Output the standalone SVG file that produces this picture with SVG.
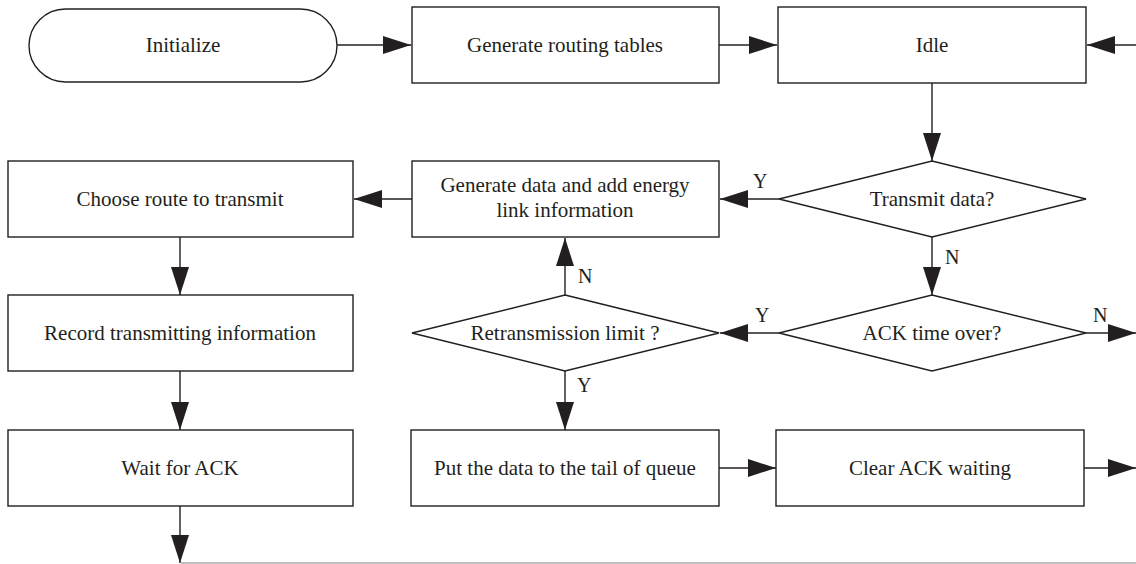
<svg xmlns="http://www.w3.org/2000/svg" width="1136" height="564" viewBox="0 0 1136 564">
<style>
.n{fill:#fff;stroke:#231f20;stroke-width:1.4}
.t{font-family:"Liberation Serif",serif;font-size:21px;fill:#231f20;text-anchor:middle;dominant-baseline:central}
.l{font-family:"Liberation Serif",serif;font-size:20px;fill:#231f20}
.c{fill:none;stroke:#231f20;stroke-width:1.4}
</style>
<defs>
<marker id="a" markerUnits="userSpaceOnUse" markerWidth="29" markerHeight="19" refX="28" refY="9" orient="auto">
<path d="M0,0 L28,9 L0,18 z" fill="#231f20"/>
</marker>
</defs>
<rect width="1136" height="564" fill="#fff"/>
<g id="connectors">
<line class="c" x1="337" y1="45" x2="411" y2="45" marker-end="url(#a)"/>
<line class="c" x1="719" y1="45" x2="777" y2="45" marker-end="url(#a)"/>
<line class="c" x1="1136" y1="45" x2="1087" y2="45" marker-end="url(#a)"/>
<line class="c" x1="932" y1="83" x2="932" y2="161" marker-end="url(#a)"/>
<line class="c" x1="779" y1="199" x2="720" y2="199" marker-end="url(#a)"/>
<line class="c" x1="412" y1="199" x2="354" y2="199" marker-end="url(#a)"/>
<line class="c" x1="932" y1="237" x2="932" y2="295" marker-end="url(#a)"/>
<line class="c" x1="779" y1="333" x2="720" y2="333" marker-end="url(#a)"/>
<line class="c" x1="1086" y1="333" x2="1136" y2="333" marker-end="url(#a)"/>
<line class="c" x1="565" y1="295" x2="565" y2="238" marker-end="url(#a)"/>
<line class="c" x1="565" y1="371" x2="565" y2="430" marker-end="url(#a)"/>
<line class="c" x1="180" y1="237" x2="180" y2="295" marker-end="url(#a)"/>
<line class="c" x1="180" y1="371" x2="180" y2="430" marker-end="url(#a)"/>
<line class="c" x1="180" y1="506" x2="180" y2="563" marker-end="url(#a)"/>
<line class="c" x1="719" y1="468" x2="776" y2="468" marker-end="url(#a)"/>
<line class="c" x1="1084" y1="468" x2="1136" y2="468" marker-end="url(#a)"/>
<line x1="181" y1="563" x2="1136" y2="563" stroke="#aaa" stroke-width="1.4"/>
<text class="l" x="753" y="188">Y</text>
<text class="l" x="945" y="264">N</text>
<text class="l" x="755" y="322">Y</text>
<text class="l" x="1093" y="322">N</text>
<text class="l" x="578" y="283">N</text>
<text class="l" x="577" y="392">Y</text>
</g>
<g id="initialize">
<rect class="n" x="29" y="9" width="308" height="73" rx="36.5" ry="36.5"/>
<text class="t" x="183" y="45">Initialize</text>
</g>
<g id="routing">
<rect class="n" x="412" y="7" width="307" height="76"/>
<text class="t" x="565" y="45">Generate routing tables</text>
</g>
<g id="idle">
<rect class="n" x="778" y="7" width="308" height="76"/>
<text class="t" x="932" y="45">Idle</text>
</g>
<g id="transmit">
<polygon class="n" points="932,161 1086,199 932,237 779,199"/>
<text class="t" x="932" y="199">Transmit data?</text>
</g>
<g id="generate">
<rect class="n" x="412" y="161" width="307" height="76"/>
<text class="t" x="565" y="185">Generate data and add energy</text>
<text class="t" x="565" y="210">link information</text>
</g>
<g id="choose">
<rect class="n" x="8" y="161" width="345" height="76"/>
<text class="t" x="180" y="199">Choose route to transmit</text>
</g>
<g id="ackover">
<polygon class="n" points="932,295 1086,333 932,371 779,333"/>
<text class="t" x="932" y="333">ACK time over?</text>
</g>
<g id="retrans">
<polygon class="n" points="565,295 719,333 565,371 412,333"/>
<text class="t" x="565" y="333">Retransmission limit ?</text>
</g>
<g id="record">
<rect class="n" x="8" y="295" width="345" height="76"/>
<text class="t" x="180" y="333">Record transmitting information</text>
</g>
<g id="wait">
<rect class="n" x="8" y="430" width="345" height="76"/>
<text class="t" x="180" y="468">Wait for ACK</text>
</g>
<g id="put">
<rect class="n" x="411" y="430" width="308" height="76"/>
<text class="t" x="565" y="468">Put the data to the tail of queue</text>
</g>
<g id="clear">
<rect class="n" x="776" y="430" width="308" height="76"/>
<text class="t" x="930" y="468">Clear ACK waiting</text>
</g>
</svg>
